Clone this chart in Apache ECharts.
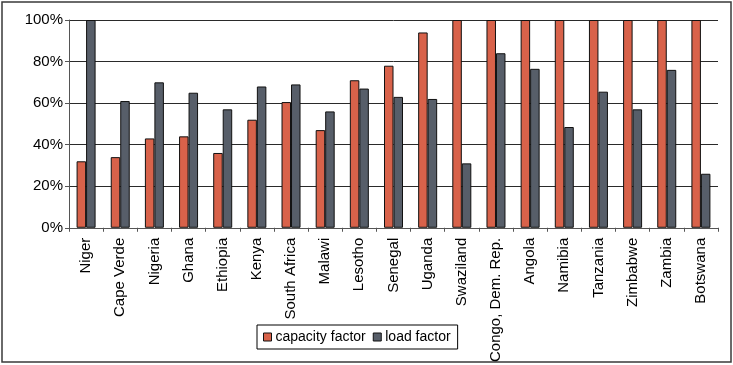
<!DOCTYPE html>
<html>
<head>
<meta charset="utf-8">
<script src="https://cdn.jsdelivr.net/npm/echarts@6/dist/echarts.min.js"></script>
<style>
  html, body { margin: 0; padding: 0; background: #fff; }
  #chart { width: 733px; height: 365px; }
</style>
</head>
<body>
<div id="chart"></div>
<script>
// Power sector utilisation by country (share of time, %)
const countries = ['Niger', 'Cape Verde', 'Nigeria', 'Ghana', 'Ethiopia', 'Kenya', 'South Africa',
  'Malawi', 'Lesotho', 'Senegal', 'Uganda', 'Swaziland', 'Congo, Dem. Rep.', 'Angola', 'Namibia',
  'Tanzania', 'Zimbabwe', 'Zambia', 'Botswana'];
const capacityFactor = [32, 34, 43, 44, 36, 52, 60.5, 47, 71, 78, 94, 100, 100, 100, 100, 100, 100, 100, 100];
const loadFactor = [100, 61, 70, 65, 57, 68, 69, 56, 67, 63, 62, 31, 84, 76.5, 48.5, 65.5, 57, 76, 26];
const yTicks = [0, 20, 40, 60, 80, 100];

const FONT = '"Liberation Sans", Arial, sans-serif';
const chart = echarts.init(document.getElementById('chart'), null, { renderer: 'canvas' });

chart.setOption({
  animation: false,
  backgroundColor: '#fff',
  textStyle: { fontFamily: FONT },
  graphic: [{
    type: 'rect',
    shape: { x: 2, y: 2, width: 729, height: 360 },
    style: { fill: 'none', stroke: '#3a3a3a', lineWidth: 1.5 },
    silent: true
  }],
  grid: { left: 69, right: 15, top: 20, bottom: 137, containLabel: false },
  legend: {
    left: 257, top: 325,
    itemWidth: 8, itemHeight: 8, itemGap: 7,
    padding: [5, 7, 5, 6],
    borderColor: '#000', borderWidth: 1,
    textStyle: { fontFamily: FONT, fontSize: 14, color: '#000', padding: [0, 0, 0, -1] },
    itemStyle: { borderColor: '#111', borderWidth: 1 },
    data: [
      { name: 'capacity factor', icon: 'rect' },
      { name: 'load factor', icon: 'rect' }
    ]
  },
  xAxis: {
    type: 'category',
    data: countries,
    boundaryGap: true,
    axisLine: { lineStyle: { color: '#555', width: 1 } },
    axisTick: { show: true, length: 4, lineStyle: { color: '#555' } },
    axisLabel: { rotate: 90, fontSize: 15, color: '#000', fontFamily: FONT, margin: 10, interval: 0 },
    splitLine: { show: false }
  },
  yAxis: {
    type: 'value',
    min: yTicks[0], max: yTicks[yTicks.length - 1], interval: 20,
    axisLine: { show: true, lineStyle: { color: '#555', width: 1 } },
    axisTick: { show: true, length: 4, lineStyle: { color: '#555' } },
    axisLabel: { formatter: '{value}%', fontSize: 15, color: '#000', fontFamily: FONT, margin: 6 },
    splitLine: { show: true, lineStyle: { color: '#2a2a2a', width: 1 } }
  },
  series: [
    {
      name: 'capacity factor', type: 'bar', data: capacityFactor,
      barWidth: 9.5, barGap: '0%',
      itemStyle: { color: '#d8624a', borderColor: '#111', borderWidth: 1 }
    },
    {
      name: 'load factor', type: 'bar', data: loadFactor,
      barWidth: 9.5, barGap: '0%',
      itemStyle: { color: '#575e69', borderColor: '#111', borderWidth: 1 }
    }
  ]
});
</script>
</body>
</html>
